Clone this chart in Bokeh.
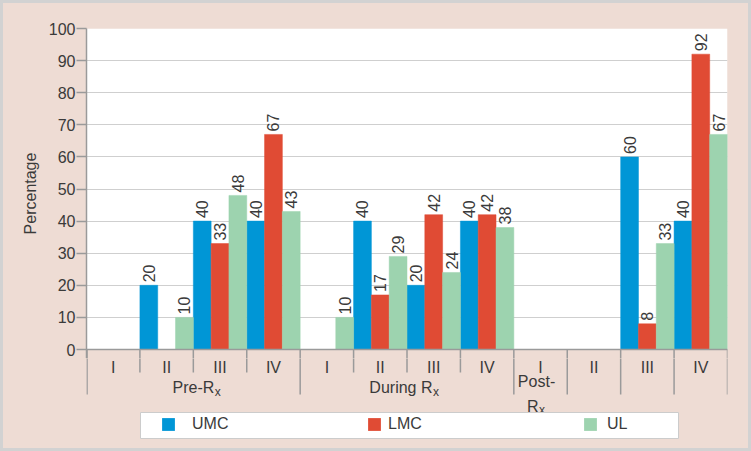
import math
from bokeh.plotting import figure
from bokeh.models import Range1d, FixedTicker, Legend, LegendItem
from bokeh.layouts import column
from bokeh.embed import file_html
from bokeh.resources import INLINE
from bokeh.core.properties import value

# ---------------- data ----------------
series = ["UMC", "LMC", "UL"]
stages = ["I", "II", "III", "IV", "I", "II", "III", "IV", "I", "II", "III", "IV"]
umc = [0, 20, 40, 40, 0, 40, 20, 40, 0, 0, 60, 40]
lmc = [0, 0, 33, 67, 0, 17, 42, 42, 0, 0, 8, 92]
ul = [0, 10, 48, 43, 10, 29, 24, 38, 0, 0, 33, 67]
group_main = ["Pre-R", "During R"]
post_line1 = "Post-"
post_line2 = "R"
subscript = "x"
y_ticks = [0, 10, 20, 30, 40, 50, 60, 70, 80, 90, 100]
y_label = "Percentage"

# ---------------- style ----------------
FONT = "Liberation Sans"
TXT = "#3a3a3a"
BG = "#EEDCD4"
AXIS = "#9a9a9a"
GRID = "#cfcfcf"
colors = ["#0096D6", "#E04B34", "#9DD3AF"]

n = len(stages)
LEFT, RIGHT, FW = 86, 24, 641
EXT_PX = 9                      # strip below the zero line inside the top frame
k = EXT_PX * 100.0 / 321.0      # same strip in data units

p = figure(width=751, height=358, frame_width=FW, frame_height=321 + EXT_PX,
           x_range=Range1d(0, n), y_range=Range1d(-k, 100),
           output_backend="svg", toolbar_location=None, x_axis_location=None,
           min_border_left=LEFT, min_border_right=RIGHT, min_border_top=28, min_border_bottom=0,
           background_fill_color=None, border_fill_color=None, outline_line_color=None)
p.xgrid.visible = False
p.ygrid.ticker = FixedTicker(ticks=y_ticks)
p.ygrid.grid_line_color = GRID
p.ygrid.grid_line_width = 1

ax = p.yaxis[0]
ax.ticker = FixedTicker(ticks=y_ticks)
ax.axis_line_color = AXIS
ax.axis_line_width = 1.5
ax.major_tick_line_color = AXIS
ax.major_tick_line_width = 1.5
ax.major_tick_out = 10
ax.major_tick_in = 0
ax.minor_tick_line_color = None
ax.major_label_text_font = FONT
ax.major_label_text_font_size = "16px"
ax.major_label_text_color = TXT
ax.major_label_standoff = 1
ax.axis_label = y_label
ax.axis_label_text_font = FONT
ax.axis_label_text_font_size = "16px"
ax.axis_label_text_font_style = "normal"
ax.axis_label_text_color = TXT
ax.axis_label_standoff = 7

# white plotting area (0..100), drawn beneath the grid
p.quad(left=[0], right=[n], bottom=[0], top=[100], fill_color="white",
       line_color=None, level="image")

bw = 1.0 / 3
for kk, vals in enumerate([umc, lmc, ul]):
    xs = [i + (kk + 0.5) * bw for i in range(n)]
    p.vbar(x=xs, top=vals, bottom=0, width=bw, fill_color=colors[kk],
           line_color=colors[kk], line_width=0.5)
    lx = [x for x, v in zip(xs, vals) if v > 0]
    ly = [v for v in vals if v > 0]
    lt = [str(v) for v in vals if v > 0]
    p.text(x=lx, y=ly, text=lt, angle=math.pi / 2, text_align="left",
           text_baseline="middle", y_offset=-3, text_font=value(FONT),
           text_font_size="16px", text_color=TXT)

# zero line + top part of separators
p.segment(x0=[0], y0=[0], x1=[n], y1=[0], line_color=AXIS, line_width=1.5)
sep_x = [max(i, 0.01) for i in range(n + 1)]
p.segment(x0=sep_x, y0=[0] * len(sep_x), x1=sep_x, y1=[-k - 1] * len(sep_x),
          line_color=AXIS, line_width=1.5)

# ---------------- lower area (category axis + legend), y in px below zero line ----------------
p2 = figure(width=751, height=93, frame_width=FW, frame_height=93,
            x_range=p.x_range, y_range=Range1d(-102, -EXT_PX),
            output_backend="svg", toolbar_location=None,
            x_axis_location=None, y_axis_location=None,
            min_border_left=LEFT, min_border_right=RIGHT, min_border_top=0, min_border_bottom=0,
            background_fill_color=None, border_fill_color=None, outline_line_color=None)
p2.grid.visible = False

sep_end = [-45 if (i % 4 == 0 or i >= 8) else -23 for i in range(n + 1)]
p2.segment(x0=sep_x, y0=[-EXT_PX + 2] * len(sep_x), x1=sep_x, y1=sep_end,
           line_color=AXIS, line_width=1.5)

# stage labels
p2.text(x=[i + 0.5 for i in range(n)], y=[-18] * n, text=stages,
        text_align="center", text_baseline="alphabetic", text_font=value(FONT),
        text_font_size="16px", text_color=TXT)

# group labels (with subscript x)
gx = [2.0, 6.0]
offs = [21, 25.5]
for g, x, o in zip(group_main, gx, offs):
    p2.text(x=[x], y=[-38], text=[g], x_offset=o, text_align="right",
            text_baseline="alphabetic", text_font=value(FONT),
            text_font_size="16px", text_color=TXT)
    p2.text(x=[x], y=[-42], text=[subscript], x_offset=o + 0.5, text_align="left",
            text_baseline="alphabetic", text_font=value(FONT),
            text_font_size="12px", text_color=TXT)

p2.text(x=[8.5], y=[-31.5], text=[post_line1], x_offset=-4, text_align="center",
        text_baseline="alphabetic", text_font=value(FONT),
        text_font_size="16px", text_color=TXT)
p2.text(x=[8.5], y=[-56.5], text=[post_line2], x_offset=-2, text_align="right",
        text_baseline="alphabetic", text_font=value(FONT),
        text_font_size="16px", text_color=TXT)
p2.text(x=[8.5], y=[-60.5], text=[subscript], x_offset=-1.5, text_align="left",
        text_baseline="alphabetic", text_font=value(FONT),
        text_font_size="12px", text_color=TXT)

# legend box
p2.quad(left=[1.011], right=[11.083], bottom=[-89], top=[-63],
        fill_color="white", line_color="#cccccc", line_width=1)

leg_x = [74, 280, 496]          # glyph positions from frame left (px)
leg_standoff = [16, 6, 9]
for name, c, lx0, so in zip(series, colors, leg_x, leg_standoff):
    r = p2.vbar(x=[0], top=[0], bottom=[0], width=0.01, fill_color=c, line_color=None)
    legend = Legend(items=[LegendItem(label=name, renderers=[r])],
                    orientation="horizontal", location=(lx0, 18),
                    padding=0, margin=0, spacing=0, glyph_width=16, glyph_height=16,
                    label_height=16, label_standoff=so,
                    label_text_font=FONT, label_text_font_size="16px",
                    label_text_color=TXT, background_fill_alpha=0,
                    border_line_color=None)
    p2.add_layout(legend)

layout = column(p, p2, spacing=0,
                styles={"background-color": BG,
                        "box-shadow": "inset 0 0 0 3px #d2d2d2"})
open("out.html", "w").write(file_html(layout, INLINE))
